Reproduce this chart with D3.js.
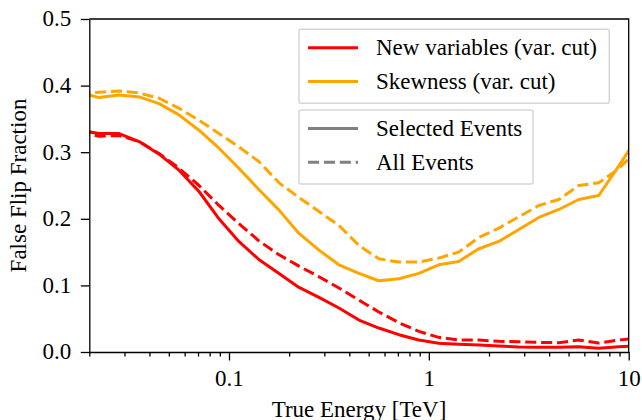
<!DOCTYPE html>
<html>
<head>
<meta charset="utf-8">
<script src="https://cdn.jsdelivr.net/npm/d3@7"></script>
<style>
  body { margin: 0; background: #fff; }
  text { font-family: "Liberation Serif", "Times New Roman", serif; }
</style>
</head>
<body>
<div id="chart"></div>
<script>
"use strict";

// bin centres of true energy [TeV] (10 bins per decade)
var energy = [0.0178, 0.0224, 0.0282, 0.0355, 0.0447, 0.0562, 0.0708, 0.0891,
              0.112, 0.141, 0.178, 0.224, 0.282, 0.355, 0.447, 0.562, 0.708, 0.891,
              1.12, 1.41, 1.78, 2.24, 2.82, 3.55, 4.47, 5.62, 7.08, 8.91, 11.2];

// false flip fraction, new variables, selected events
var newSelected = [0.333, 0.328, 0.328, 0.316, 0.297, 0.273, 0.241, 0.200,
                   0.166, 0.139, 0.118, 0.097, 0.082, 0.066, 0.048, 0.036, 0.026, 0.018,
                   0.013, 0.0115, 0.0105, 0.009, 0.0075, 0.007, 0.007, 0.008, 0.0055, 0.008, 0.009];
// new variables, all events
var newAll = [0.330, 0.324, 0.325, 0.316, 0.298, 0.276, 0.250, 0.220,
              0.193, 0.167, 0.146, 0.129, 0.113, 0.096, 0.078, 0.060, 0.044, 0.031,
              0.022, 0.018, 0.018, 0.016, 0.0155, 0.0145, 0.014, 0.018, 0.0135, 0.018, 0.021];
// skewness, selected events
var skewSelected = [0.390, 0.382, 0.386, 0.383, 0.373, 0.356, 0.333, 0.306,
                    0.276, 0.244, 0.213, 0.178, 0.153, 0.131, 0.118, 0.107, 0.110, 0.118,
                    0.131, 0.136, 0.155, 0.166, 0.184, 0.202, 0.214, 0.229, 0.235, 0.279, 0.325];
// skewness, all events
var skewAll = [0.388, 0.390, 0.392, 0.389, 0.381, 0.366, 0.348, 0.328,
               0.308, 0.286, 0.254, 0.232, 0.211, 0.190, 0.160, 0.140, 0.135, 0.135,
               0.141, 0.150, 0.172, 0.186, 0.203, 0.220, 0.229, 0.250, 0.254, 0.275, 0.305];

var yTicks = [0.0, 0.1, 0.2, 0.3, 0.4, 0.5];
var xMajor = [0.1, 1, 10];
var xMinor = [0.02, 0.03, 0.04, 0.05, 0.06, 0.07, 0.08, 0.09,
              0.2, 0.3, 0.4, 0.5, 0.6, 0.7, 0.8, 0.9,
              2, 3, 4, 5, 6, 7, 8, 9];

var seriesNames = ["New variables (var. cut)", "Skewness (var. cut)"];
var styleNames = ["Selected Events", "All Events"];

var width = 642, height = 420;
var margin = {top: 19, right: 13.3, bottom: 68, left: 89.3};
var w = width - margin.left - margin.right;
var h = height - margin.top - margin.bottom;
var red = "#ff0000", orange = "#ffa500", grey = "#808080";
var dash = "11.1,4.8";
var fs = 23;

var xScale = d3.scaleLog().domain([0.02, 10]).range([0, w]);
var yScale = d3.scaleLinear().domain([0, 0.5]).range([h, 0]);

const svg = d3.select("#chart").append("svg")
    .attr("width", width).attr("height", height);

svg.append("defs").append("clipPath").attr("id", "clip")
    .append("rect").attr("width", w).attr("height", h);

var g = svg.append("g")
    .attr("transform", "translate(" + margin.left + "," + margin.top + ")");

// curves
var line = d3.line()
    .x(function(d) { return xScale(d[0]); })
    .y(function(d) { return yScale(d[1]); });

var curves = [
  {vals: newSelected, color: red, dashed: false},
  {vals: newAll, color: red, dashed: true},
  {vals: skewSelected, color: orange, dashed: false},
  {vals: skewAll, color: orange, dashed: true}
];

var plot = g.append("g").attr("clip-path", "url(#clip)");
curves.forEach(function(c) {
  plot.append("path")
      .datum(d3.zip(energy, c.vals))
      .attr("d", line)
      .attr("fill", "none")
      .attr("stroke", c.color)
      .attr("stroke-width", 3)
      .attr("stroke-dasharray", c.dashed ? dash : null)
      .attr("stroke-linejoin", "round");
});

// axes
g.append("g").attr("transform", "translate(0," + h + ")")
    .call(d3.axisBottom(xScale).tickValues(xMajor)
          .tickFormat(d3.format("~g")).tickSize(8.5).tickSizeOuter(0).tickPadding(9.5));
g.append("g").attr("transform", "translate(0," + h + ")")
    .call(d3.axisBottom(xScale).tickValues(xMinor)
          .tickFormat("").tickSize(4.5).tickSizeOuter(0))
    .select(".domain").remove();
var yAxis = g.append("g")
    .call(d3.axisLeft(yScale).tickValues(yTicks)
          .tickFormat(d3.format(".1f")).tickSize(8.5).tickSizeOuter(0).tickPadding(9.6));

g.selectAll(".tick line").attr("stroke", "#000").attr("stroke-width", 1.3);
g.selectAll(".domain").attr("stroke", "#000").attr("stroke-width", 1.3);
g.selectAll(".tick text").attr("font-size", fs).attr("fill", "#000")
    .attr("font-family", "Liberation Serif, Times New Roman, serif");
yAxis.selectAll(".tick text").attr("dy", "0.30em");

// top and right spines
g.append("path")
    .attr("d", "M0,0H" + w + "V" + h)
    .attr("fill", "none").attr("stroke", "#000").attr("stroke-width", 1.3);

// axis labels
svg.append("text")
    .attr("x", margin.left + w / 2).attr("y", 417)
    .attr("text-anchor", "middle").attr("font-size", fs)
    .text("True Energy [TeV]");
svg.append("text")
    .attr("transform", "translate(25.5," + (margin.top + h / 2) + ") rotate(-90)")
    .attr("text-anchor", "middle").attr("font-size", fs)
    .text("False Flip Fraction");

// legends
function drawLegend(x, y, bw, items) {
  var lg = svg.append("g").attr("transform", "translate(" + x + "," + y + ")");
  lg.append("rect")
      .attr("width", bw).attr("height", 74).attr("rx", 2)
      .attr("fill", "#fff").attr("fill-opacity", 0.8)
      .attr("stroke", "#d6d6d6").attr("stroke-width", 1.5);
  items.forEach(function(it, i) {
    var ly = 18.4 + i * 33.8;
    lg.append("line")
        .attr("x1", 9).attr("x2", 59).attr("y1", ly).attr("y2", ly)
        .attr("stroke", it.color).attr("stroke-width", 3)
        .attr("stroke-dasharray", it.dashed ? dash : null);
    lg.append("text")
        .attr("x", 77).attr("y", ly).attr("dy", "0.33em")
        .attr("font-size", fs).text(it.label);
  });
}

drawLegend(299, 29.3, 310.3, [
  {label: seriesNames[0], color: red, dashed: false},
  {label: seriesNames[1], color: orange, dashed: false}
]);
drawLegend(299, 110, 234, [
  {label: styleNames[0], color: grey, dashed: false},
  {label: styleNames[1], color: grey, dashed: true}
]);
</script>
</body>
</html>
